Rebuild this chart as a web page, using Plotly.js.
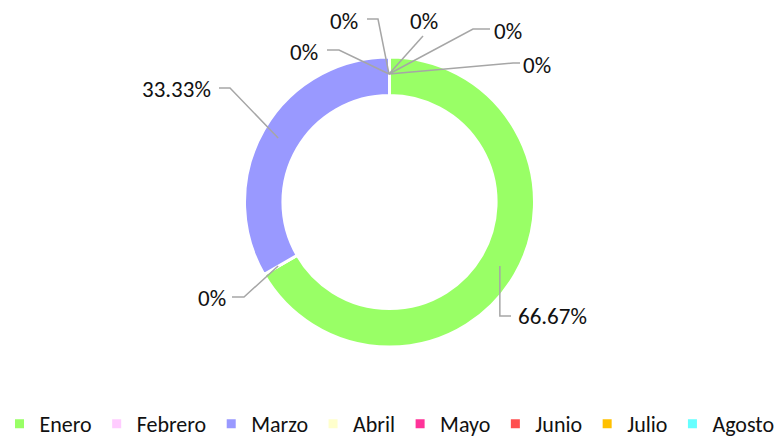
<!DOCTYPE html>
<html>
<head>
<meta charset="utf-8">
<script src="https://cdn.plot.ly/plotly-3.0.1.min.js"></script>
<style>html,body{margin:0;padding:0;background:#fff;}#chart{width:779px;height:437px;}</style>
</head>
<body>
<div id="chart"></div>
<script>
// ---- data ----
const months = ["Enero", "Febrero", "Marzo", "Abril", "Mayo", "Junio", "Julio", "Agosto"];
const counts = [2, 0, 1, 0, 0, 0, 0, 0];
const colors = ["#99FF66", "#FFCCFF", "#9999FF", "#FFFFCC", "#FF3399", "#FF5050", "#FFC000", "#66FFFF"];

// ---- style / layout (pixel placement of data labels, like Excel's manual label layout) ----
const W = 779, H = 437;
const center = [389, 202], outerR = 145, anchorR = 128;
const labelPlacement = [
  {knee: [null, 316], end: [511, 316], text: [516, 316], side: "left"},   // Enero
  {knee: [244, 297], end: [232, 297], text: [228, 298], side: "right"},   // Febrero
  {knee: [230, 88], end: [219, 88], text: [213, 89], side: "right"},      // Marzo
  {knee: [339, 50], end: [327, 50], text: [320, 52], side: "right"},      // Abril
  {knee: [378, 19], end: [367, 19], text: [360, 21], side: "right"},      // Mayo
  {knee: [423, 36], end: [423, 36], text: [424, 21], side: "center"},     // Junio
  {knee: [473, 29], end: [490, 29], text: [492, 31], side: "left"},       // Julio
  {knee: [513, 63], end: [520, 63], text: [521, 65], side: "left"}        // Agosto
];
const labelFont = {family: "Carlito, Lato, sans-serif", size: 23, color: "#111"};
const lineColor = "#A6A6A6";

const total = counts.reduce((a, b) => a + b, 0);
const pctText = counts.map(v => {
  const p = v / total * 100;
  return p === 0 ? "0%" : p.toFixed(2) + "%";
});

const px = x => x / W;
const py = y => 1 - y / H;

const shapes = [];
const annotations = [];
let cum = 0;
counts.forEach((v, i) => {
  const midDeg = (cum + v / 2) / total * 360;
  cum += v;
  const th = midDeg * Math.PI / 180;
  const ax = center[0] + anchorR * Math.sin(th);
  const ay = center[1] - anchorR * Math.cos(th);
  const L = labelPlacement[i];
  const kx = L.knee[0] === null ? ax : L.knee[0];
  const ky = L.knee[1];
  const path = `M${px(ax)},${py(ay)} L${px(kx)},${py(ky)} L${px(L.end[0])},${py(L.end[1])}`;
  shapes.push({type: "path", xref: "paper", yref: "paper", path: path,
               line: {color: lineColor, width: 1.5}});
  annotations.push({
    xref: "paper", yref: "paper",
    x: px(L.text[0]), y: py(L.text[1]),
    xanchor: L.side, yanchor: "middle",
    text: pctText[i], showarrow: false, font: labelFont
  });
});

const half = outerR / H;
const cyFrac = 1 - center[1] / H;

const trace = {
  type: "pie",
  labels: months,
  values: counts,
  textinfo: "none",
  marker: {colors: colors, line: {color: "#ffffff", width: 3}},
  hole: 0.735,
  sort: false,
  direction: "clockwise",
  rotation: 0,
  domain: {x: [0, 1], y: [cyFrac - half, cyFrac + half]},
  hoverinfo: "skip",
  showlegend: true
};

const layout = {
  width: W,
  height: H,
  margin: {l: 0, r: 0, t: 0, b: 0, autoexpand: false},
  paper_bgcolor: "#fff",
  showlegend: true,
  shapes: shapes,
  annotations: annotations,
  legend: {
    orientation: "h",
    x: 0.5, xanchor: "center",
    y: 1 - 424 / H, yanchor: "middle",
    font: {family: "Carlito, Lato, sans-serif", size: 22, color: "#111"},
    itemgap: 0,
    traceorder: "normal"
  }
};

Plotly.newPlot("chart", [trace], layout, {displayModeBar: false, staticPlot: true});
</script>
</body>
</html>
